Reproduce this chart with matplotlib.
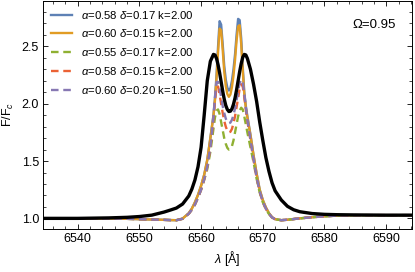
import numpy as np
import matplotlib.pyplot as plt
from matplotlib.ticker import MultipleLocator

plt.rcParams['font.family'] = ['Liberation Sans', 'DejaVu Sans']
plt.rcParams['mathtext.fontset'] = 'custom'
plt.rcParams['mathtext.rm'] = 'Liberation Sans'
plt.rcParams['mathtext.it'] = 'Liberation Sans:italic'

# wavelength grid (Angstrom)
wl = [6534, 6540, 6545, 6548, 6550, 6552, 6554, 6555, 6556, 6557,
      6558, 6558.5, 6559, 6559.5, 6560, 6560.5, 6561, 6561.5, 6562,
      6562.25, 6562.5, 6562.75, 6563, 6563.25, 6563.5, 6563.75, 6564, 6564.25, 6564.5,
      6564.75, 6565, 6565.25, 6565.5, 6565.75, 6566, 6566.25, 6566.5, 6566.75, 6567,
      6567.25, 6567.5, 6568, 6568.5, 6569, 6569.5, 6570, 6570.5, 6571, 6571.5,
      6572, 6573, 6574, 6575, 6576, 6578, 6580, 6582, 6585, 6590,
      6595]

f_obs = [1.000, 1.000, 1.004, 1.009, 1.016, 1.028, 1.055, 1.072, 1.090, 1.125,
         1.195, 1.255, 1.335, 1.450, 1.620, 1.900, 2.200, 2.370, 2.430,
         2.425, 2.395, 2.340, 2.270, 2.190, 2.110, 2.040, 1.985, 1.950, 1.932,
         1.935, 1.955, 1.995, 2.050, 2.120, 2.200, 2.280, 2.350, 2.405, 2.430,
         2.425, 2.395, 2.300, 2.170, 2.020, 1.840, 1.680, 1.530, 1.410, 1.310,
         1.240, 1.160, 1.105, 1.075, 1.058, 1.042, 1.035, 1.032, 1.030, 1.028,
         1.028]

f_a058_d017 = [1.000, 1.000, 0.999, 0.996, 0.993, 0.990, 0.987, 0.985, 0.984, 0.998,
               1.045, 1.085, 1.140, 1.205, 1.285, 1.380, 1.510, 1.700, 1.900,
               2.050, 2.250, 2.500, 2.720, 2.690, 2.520, 2.330, 2.210, 2.140, 2.115,
               2.135, 2.200, 2.300, 2.430, 2.600, 2.740, 2.730, 2.570, 2.320, 2.100,
               1.980, 1.890, 1.730, 1.550, 1.390, 1.250, 1.160, 1.095, 1.045, 1.010,
               0.993, 0.984, 0.988, 0.994, 1.000, 1.010, 1.018, 1.024, 1.028, 1.028,
               1.028]

f_a060_d015 = [1.000, 1.000, 0.999, 0.996, 0.993, 0.990, 0.987, 0.985, 0.984, 0.998,
               1.045, 1.085, 1.140, 1.205, 1.285, 1.380, 1.510, 1.700, 1.890,
               2.030, 2.220, 2.450, 2.655, 2.640, 2.470, 2.280, 2.155, 2.085, 2.060,
               2.080, 2.145, 2.245, 2.380, 2.550, 2.675, 2.685, 2.520, 2.290, 2.080,
               1.965, 1.880, 1.725, 1.550, 1.390, 1.250, 1.160, 1.095, 1.045, 1.010,
               0.993, 0.984, 0.988, 0.994, 1.000, 1.010, 1.018, 1.024, 1.028, 1.028,
               1.028]

f_a055_d017 = [1.000, 1.000, 0.999, 0.996, 0.993, 0.990, 0.987, 0.985, 0.984, 0.996,
               1.040, 1.075, 1.120, 1.180, 1.250, 1.335, 1.430, 1.580, 1.780,
               1.880, 1.940, 1.950, 1.910, 1.840, 1.770, 1.700, 1.650, 1.615, 1.600,
               1.605, 1.630, 1.680, 1.750, 1.820, 1.890, 1.940, 1.965, 1.950, 1.890,
               1.820, 1.750, 1.620, 1.490, 1.345, 1.225, 1.140, 1.080, 1.038, 1.007,
               0.992, 0.984, 0.988, 0.994, 1.000, 1.010, 1.018, 1.024, 1.028, 1.028,
               1.028]

f_a058_d015 = [1.000, 1.000, 0.999, 0.996, 0.993, 0.990, 0.987, 0.985, 0.984, 0.996,
               1.040, 1.075, 1.120, 1.180, 1.250, 1.340, 1.450, 1.610, 1.860,
               2.030, 2.150, 2.150, 2.080, 2.000, 1.920, 1.850, 1.800, 1.765, 1.750,
               1.755, 1.780, 1.830, 1.890, 1.970, 2.050, 2.130, 2.170, 2.150, 2.060,
               1.950, 1.850, 1.680, 1.510, 1.355, 1.232, 1.143, 1.083, 1.040, 1.008,
               0.992, 0.984, 0.988, 0.994, 1.000, 1.010, 1.018, 1.024, 1.028, 1.028,
               1.028]

f_a060_d020 = [1.000, 1.000, 0.999, 0.996, 0.993, 0.990, 0.987, 0.985, 0.984, 0.996,
               1.040, 1.075, 1.120, 1.180, 1.250, 1.340, 1.450, 1.620, 1.880,
               2.060, 2.190, 2.190, 2.130, 2.060, 1.980, 1.920, 1.870, 1.840, 1.830,
               1.835, 1.860, 1.900, 1.960, 2.030, 2.110, 2.180, 2.210, 2.190, 2.090,
               1.970, 1.860, 1.690, 1.515, 1.358, 1.235, 1.145, 1.085, 1.040, 1.008,
               0.992, 0.984, 0.988, 0.994, 1.000, 1.010, 1.018, 1.024, 1.028, 1.028,
               1.028]

labels = [r'$\alpha$=0.58 $\delta$=0.17 k=2.00',
          r'$\alpha$=0.60 $\delta$=0.15 k=2.00',
          r'$\alpha$=0.55 $\delta$=0.17 k=2.00',
          r'$\alpha$=0.58 $\delta$=0.15 k=2.00',
          r'$\alpha$=0.60 $\delta$=0.20 k=1.50']
colors = ['#5E81B5', '#E19C24', '#8FB032', '#EB6235', '#8778B3']
models = [f_a058_d017, f_a060_d015, f_a055_d017, f_a058_d015, f_a060_d020]
styles = ['-', '-', '--', '--', '--']

fig = plt.figure(figsize=(4.15, 2.72), dpi=100)
ax = fig.add_axes([0.104, 0.158, 0.889, 0.84])

for f, c, ls, lab in zip(models, colors, styles, labels):
    if ls == '--':
        ax.plot(wl, f, color=c, lw=1.7, ls=ls, dashes=(3.2, 2), label=lab)
    else:
        ax.plot(wl, f, color=c, lw=1.7, ls=ls, label=lab)
ax.plot(wl, f_obs, color='black', lw=2.4)

ax.set_xlim(6534.4, 6594.2)
ax.set_ylim(0.907, 2.9)
ax.xaxis.set_major_locator(MultipleLocator(10))
ax.xaxis.set_minor_locator(MultipleLocator(2))
ax.yaxis.set_major_locator(MultipleLocator(0.5))
ax.yaxis.set_minor_locator(MultipleLocator(0.1))
ax.tick_params(which='both', direction='in', top=True, right=True, labelsize=9, pad=3)
ax.tick_params(which='major', length=3.5, width=0.6)
ax.tick_params(which='minor', length=2, width=0.5)
for s in ax.spines.values():
    s.set_linewidth(0.7)

ax.set_xlabel(r'$\lambda$ [Å]', fontsize=9, labelpad=3)
ax.set_ylabel(r'F/F$_c$', fontsize=9, labelpad=4)
ax.text(0.837, 0.895, 'Ω=0.95', transform=ax.transAxes, fontsize=9.5, va='center')

ax.legend(loc='upper left', frameon=False, fontsize=8.2, handlelength=1.8,
          handletextpad=0.8, labelspacing=0.6, borderaxespad=0.3)

fig.savefig('out.png', dpi=100)
